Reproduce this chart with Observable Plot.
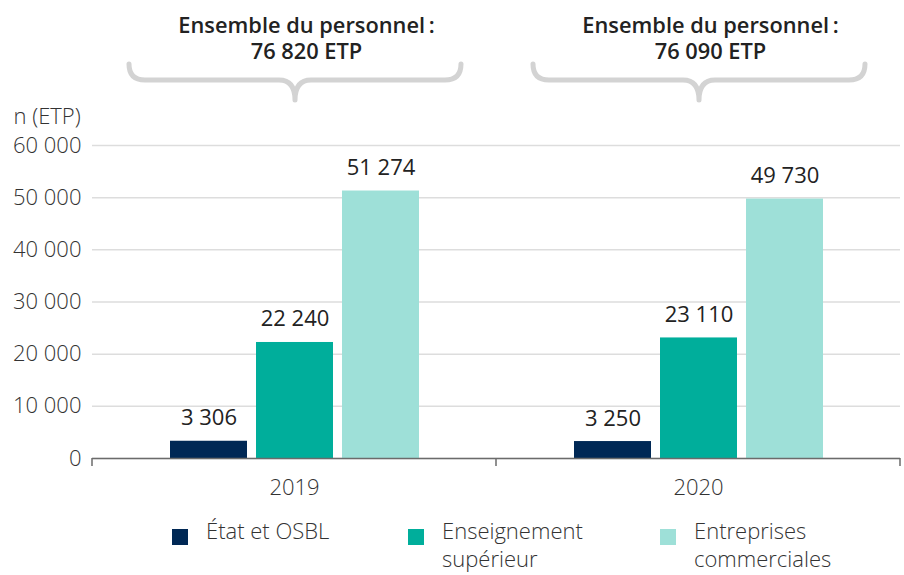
<!DOCTYPE html>
<html>
<head>
<meta charset="utf-8">
<script src="https://cdn.jsdelivr.net/npm/d3@7"></script>
<script src="https://cdn.jsdelivr.net/npm/@observablehq/plot@0.6"></script>
<style>
  body { margin: 0; background: #fff; font-family: 'Open Sans', sans-serif; }
  #wrap { width: 904px; position: relative; }
  #legend { position: relative; height: 65px; margin-top: 6px; font-size: 22px; font-weight: 300; color: #333; line-height: 28px; }
  .sw { position: absolute; top: 13px; width: 16px; height: 16px; }
  .lab { position: absolute; top: 0; white-space: nowrap; }
</style>
</head>
<body>
<div id="wrap"></div>
<script>
const years = ["2019", "2020"];
const categories = ["État et OSBL", "Enseignement supérieur", "Entreprises commerciales"];
const legendLabels = [["État et OSBL"], ["Enseignement", "supérieur"], ["Entreprises", "commerciales"]];
const values2019 = [3306, 22240, 51274];
const values2020 = [3250, 23110, 49730];
const totals = [76820, 76090];
const colors = ["#002855", "#00ae9b", "#9ee0d8"];
const yTicks = [0, 10000, 20000, 30000, 40000, 50000, 60000];
const yLabel = "n (ETP)";

const locale = d3.formatLocale({decimal: ",", thousands: "\u00a0", grouping: [3], currency: ["", " €"]});
const fmt = locale.format(",d");

const seriesByYear = [values2019, values2020];
const data = years.flatMap((yr, i) => categories.map((c, j) => ({year: yr, cat: c, value: seriesByYear[i][j]})));
const totalData = years.map((yr, i) => ({year: yr, total: totals[i]}));

const chart = Plot.plot({
  width: 904,
  height: 510,
  marginLeft: 92,
  marginRight: 4,
  marginTop: 145,
  marginBottom: 52,
  style: {fontFamily: "'Open Sans', sans-serif", fontSize: "22px", color: "#3a3a3a", background: "#fff"},
  fx: {domain: years, padding: 0, label: null},
  x: {domain: categories, paddingInner: 0.105, paddingOuter: 0.9, axis: null},
  y: {domain: [0, 60000], label: null},
  color: {domain: categories, range: colors},
  marks: [
    Plot.gridY(yTicks, {stroke: "#dddddd", strokeOpacity: 1, strokeWidth: 1.5}),
    Plot.axisY(yTicks, {tickSize: 0, tickPadding: 11, tickFormat: fmt, label: null, fill: "#333", fontWeight: 300}),
    Plot.axisFx({anchor: "bottom", tickSize: 0, tickPadding: 21, label: null, fill: "#333", fontWeight: 300}),
    Plot.barY(data, {fx: "year", x: "cat", y: "value", fill: "cat"}),
    Plot.ruleY([0], {stroke: "#6b6b6b", strokeWidth: 1.5}),
    Plot.text(data, {fx: "year", x: "cat", y: "value", text: d => fmt(d.value), lineAnchor: "bottom", dy: -16, fill: "#222", fontSize: 22}),
    Plot.text(totalData, {fx: "year", text: d => `Ensemble du personnel\u2009:\n${fmt(d.total)} ETP`, frameAnchor: "top", lineAnchor: "top", dy: -131, dx: 12, fontWeight: 600, fontSize: 21.8, lineHeight: 1.2, fill: "#222"}),
    Plot.text([{year: years[0], label: yLabel}], {fx: "year", text: "label", frameAnchor: "top-left", textAnchor: "start", lineAnchor: "bottom", dx: -79, dy: -22, fill: "#333", fontWeight: 300, fontSize: 22})
  ]
});

// decorations: boundary ticks and braces, positioned from the library's scales
const fxs = chart.scale("fx");
const ys = chart.scale("y");
const bw = fxs.bandwidth;
const y0 = ys.apply(0);
const svg = d3.select(chart);
const deco = svg.append("g");
const edges = years.map(yr => fxs.apply(yr)).concat([fxs.apply(years[years.length - 1]) + bw]);
edges.forEach(x => {
  deco.append("line").attr("x1", x).attr("x2", x).attr("y1", y0).attr("y2", y0 + 8)
    .attr("stroke", "#6b6b6b").attr("stroke-width", 1.5);
});
years.forEach(yr => {
  const cx = fxs.apply(yr) + bw / 2 + 1;
  const hw = 166, top = 64, mid = 80, tip = 100, r = 16;
  const p = `M${cx - hw},${top} Q${cx - hw},${mid} ${cx - hw + r},${mid} L${cx - r},${mid} Q${cx},${mid} ${cx},${tip}` +
            ` M${cx + hw},${top} Q${cx + hw},${mid} ${cx + hw - r},${mid} L${cx + r},${mid} Q${cx},${mid} ${cx},${tip}`;
  deco.append("path").attr("d", p).attr("fill", "none").attr("stroke", "#d3d3d3")
    .attr("stroke-width", 5).attr("stroke-linecap", "round").attr("stroke-linejoin", "round");
});

const wrap = document.getElementById("wrap");
wrap.appendChild(chart);

// legend
const legendX = [172, 408, 660];
const legend = document.createElement("div");
legend.id = "legend";
categories.forEach((c, i) => {
  const sw = document.createElement("div");
  sw.className = "sw";
  sw.style.left = legendX[i] + "px";
  sw.style.background = colors[i];
  legend.appendChild(sw);
  const lab = document.createElement("div");
  lab.className = "lab";
  lab.style.left = (legendX[i] + 34) + "px";
  lab.innerHTML = legendLabels[i].join("<br>");
  legend.appendChild(lab);
});
wrap.appendChild(legend);
</script>
</body>
</html>
